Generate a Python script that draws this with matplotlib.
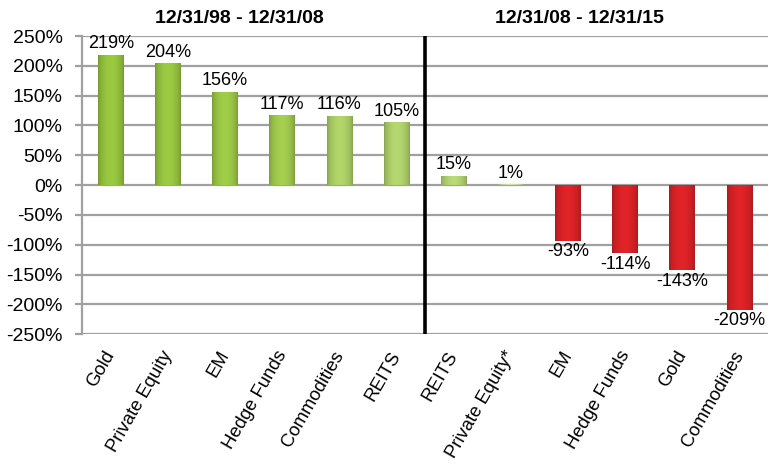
import numpy as np
import matplotlib
matplotlib.use("Agg")
import matplotlib.pyplot as plt
from matplotlib.colors import to_rgb
import matplotlib.transforms as mtransforms

plt.rcParams['font.family'] = ['Liberation Sans', 'DejaVu Sans']

# data
categories = ['Gold', 'Private Equity', 'EM', 'Hedge Funds', 'Commodities', 'REITS',
              'REITS', 'Private Equity*', 'EM', 'Hedge Funds', 'Gold', 'Commodities']
returns = [219, 204, 156, 117, 116, 105, 15, 1, -93, -114, -143, -209]
bar_colors = ['#8cb83a', '#8eb93d', '#92bb42', '#96bd48', '#a2c35f', '#a5c465',
              '#a8c66c', '#bccca4', '#cc2024', '#cc2024', '#cc2024', '#cc2024']
period_titles = ['12/31/98 - 12/31/08', '12/31/08 - 12/31/15']
yticks = list(range(-250, 251, 50))

fig = plt.figure(figsize=(7.68, 4.68), dpi=100)
ax = fig.add_axes([0.107, 0.286, 0.893, 0.637])

x = np.arange(len(categories))
bars = ax.bar(x, returns, width=0.45, color=bar_colors, zorder=3,
              edgecolor='none')

# soft horizontal shading on each bar
t = np.linspace(0, 1, 60)
shade = 0.82 + 0.28 * np.sin(np.pi * t) ** 0.6
for b, c in zip(bars, bar_colors):
    rgb = np.array(to_rgb(c))
    img = np.clip(rgb[None, None, :] * shade[None, :, None], 0, 1)
    x0, y0 = b.get_x(), b.get_y()
    w, h = b.get_width(), b.get_height()
    im = ax.imshow(img, extent=[x0, x0 + w, min(y0, y0 + h), max(y0, y0 + h)],
                   aspect='auto', zorder=4, interpolation='bilinear')
    im.set_clip_path(b)

for xi, v in zip(x, returns):
    if v >= 0:
        ax.annotate(f'{v}%', (xi, v), xytext=(0, 2), textcoords='offset points',
                    ha='center', va='bottom', fontsize=13, zorder=6)
    else:
        ax.annotate(f'{v}%', (xi, v), xytext=(0, -2), textcoords='offset points',
                    ha='center', va='top', fontsize=13, zorder=6)

ax.set_xlim(-0.5, len(categories) - 0.5)
ax.set_ylim(-250, 250)
ax.set_yticks(yticks)
ax.set_yticklabels([f'{v}%' for v in yticks], fontsize=14)
ax.yaxis.grid(True, color='#a0a0a0', linewidth=1.6, zorder=0)
ax.set_axisbelow(True)
ax.tick_params(axis='y', length=5, width=1.6, color='#a0a0a0', pad=9)

ax.set_xticks(x)
ax.set_xticklabels(categories, rotation=60, ha='right', rotation_mode='anchor',
                   fontsize=13.3)
ax.tick_params(axis='x', length=0, pad=10)
shift = mtransforms.ScaledTranslation(-5 / 72, 0, fig.dpi_scale_trans)
for lbl in ax.get_xticklabels():
    lbl.set_transform(lbl.get_transform() + shift)

for s in ['top', 'right', 'bottom']:
    ax.spines[s].set_visible(False)
ax.spines['left'].set_color('#a0a0a0')
ax.spines['left'].set_linewidth(1.6)

# separator between the two periods
ax.axvline(5.5, color='black', linewidth=2.6, zorder=5)

trans = mtransforms.blended_transform_factory(ax.transData, ax.transAxes)
ax.text(2.25, 1.03, period_titles[0], transform=trans, ha='center', va='bottom',
        fontsize=14, fontweight='bold')
ax.text(8.2, 1.03, period_titles[1], transform=trans, ha='center', va='bottom',
        fontsize=14, fontweight='bold')

fig.savefig('out.png', dpi=100)
